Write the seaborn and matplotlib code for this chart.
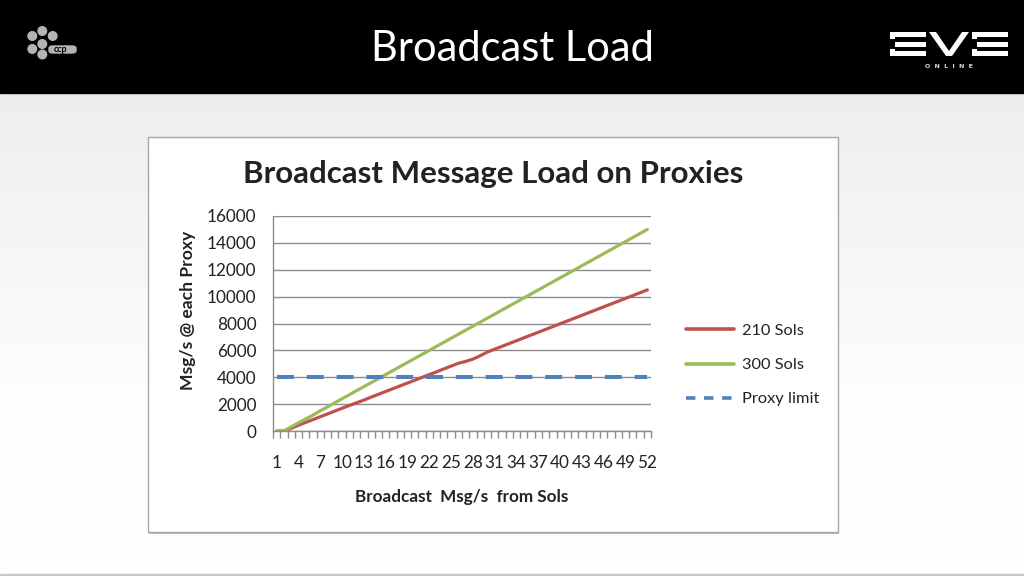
import numpy as np
import pandas as pd
import matplotlib
matplotlib.use("Agg")
import matplotlib.pyplot as plt
import matplotlib.patches as mpatches
import seaborn as sns

# ---------------- data ----------------
msg_rate = list(range(1, 53))
sols_210 = [0, 0, 200, 430, 640, 850, 1060, 1270, 1480, 1690, 1900, 2100, 2300, 2520,
            2730, 2940, 3150, 3360, 3570, 3780, 3990, 4200, 4400, 4620, 4830, 5040,
            5180, 5350, 5600, 5880, 6090, 6300, 6510, 6720, 6930, 7140, 7350, 7560,
            7770, 7980, 8190, 8400, 8610, 8820, 9030, 9240, 9450, 9660, 9870, 10080,
            10290, 10500]
sols_300 = [0, 0, 310, 600, 900, 1180, 1500, 1800, 2100, 2400, 2700, 3000, 3300, 3600,
            3900, 4200, 4500, 4800, 5100, 5400, 5700, 6000, 6300, 6600, 6900, 7200,
            7500, 7800, 8100, 8400, 8700, 9000, 9300, 9600, 9900, 10200, 10500, 10800,
            11100, 11400, 11700, 12000, 12300, 12600, 12900, 13200, 13500, 13800, 14100,
            14400, 14700, 15000]
proxy_limit = [4000] * 52
series_names = ["210 Sols", "300 Sols", "Proxy limit"]
series_colors = ["#C0504D", "#9BBB59", "#4F81BD"]
x_tick_labels = [str(v) for v in range(1, 53, 3)]
y_ticks = [0, 2000, 4000, 6000, 8000, 10000, 12000, 14000, 16000]

df = pd.DataFrame({
    "x": msg_rate * 3,
    "y": sols_210 + sols_300 + proxy_limit,
    "series": [series_names[0]] * 52 + [series_names[1]] * 52 + [series_names[2]] * 52,
})

# ---------------- style ----------------
sns.set_theme(style="white")
plt.rcParams["font.family"] = ["Lato", "DejaVu Sans"]

W, H = 1024, 576
fig = plt.figure(figsize=(W / 100, H / 100), dpi=100)

def fx(px):
    return px / W

def fy(py):
    return 1 - py / H

# background gradient
bg = fig.add_axes([0, 0, 1, 1], zorder=-10)
grad = np.linspace(0, 1, 256)[:, None]
bg.imshow(grad, cmap=matplotlib.colors.LinearSegmentedColormap.from_list(
    "g", ["#e9e9e7", "#f3f3f2", "#fdfdfd", "#ffffff"]), aspect="auto",
    extent=[0, 1, 0, 1], origin="upper")
bg.set_xlim(0, 1)
bg.set_ylim(0, 1)
bg.axis("off")

# header band
bg.add_patch(mpatches.Rectangle((0, fy(93)), 1, 1 - fy(93), color="black", zorder=2))
# slide border bottom
bg.add_patch(mpatches.Rectangle((0, 0), 1, fy(574), color="#c8c8c8", zorder=2))

# chart panel with shadow
bg.add_patch(mpatches.Rectangle((fx(149), fy(534)), fx(839) - fx(149), fy(139) - fy(534),
                                facecolor="#bdbdbd", edgecolor="none", zorder=3))
bg.add_patch(mpatches.Rectangle((fx(148), fy(532)), fx(838) - fx(148), fy(137) - fy(532),
                                facecolor="white", edgecolor="#a6a6a6", lw=1, zorder=4))

# CCP logo
logo_gray = "#b4b4b4"
for cx, cy in [(32.3, 36), (42.3, 31), (52.7, 36), (32.3, 49), (42.3, 44), (42.3, 54.5)]:
    bg.add_patch(mpatches.Ellipse((fx(cx), fy(cy)), 8.6 / W, 8.6 / H, color=logo_gray, zorder=5))
bg.add_patch(mpatches.FancyBboxPatch((fx(49), fy(53)), fx(76) - fx(49), fy(46) - fy(53),
                                     boxstyle="round,pad=0,rounding_size=0.004",
                                     color=logo_gray, zorder=5))
bg.text(fx(61), fy(49.5), "ccp", color="black", fontsize=6.5, fontweight="bold",
        ha="center", va="center", zorder=6)

# EVE ONLINE logo (drawn from bars)
def bar(x0, y0, x1, y1):
    bg.add_patch(mpatches.Rectangle((fx(x0), fy(y1)), fx(x1) - fx(x0), fy(y0) - fy(y1),
                                    color="white", lw=0, zorder=6))

for ex in (890, 972):
    bar(ex, 32, ex + 36, 37)
    bar(ex + 5, 42, ex + 36, 46.5)
    bar(ex, 51, ex + 36, 56)
    bar(ex, 32, ex + 5, 39)
    bar(ex, 49, ex + 5, 56)
v_pts = [(929, 32), (936, 32), (949, 51), (962, 32), (969, 32), (952, 56), (946, 56)]
bg.add_patch(mpatches.Polygon([(fx(a), fy(b)) for a, b in v_pts], closed=True,
                              color="white", lw=0, zorder=6))
bg.text(fx(949), fy(66), "O  N  L  I  N  E", color="#dddddd", fontsize=4.5,
        fontweight="bold", family="DejaVu Sans", ha="center", va="center", zorder=6)

# header title
bg.text(0.5, fy(49), "Broadcast Load", color="white", fontsize=30,
        family=["Lato", "DejaVu Sans"], ha="center", va="center", zorder=6)

# ---------------- chart ----------------
ax = fig.add_axes([fx(273), fy(431), fx(651) - fx(273), fy(216) - fy(431)])
ax.set_facecolor("none")
sns.lineplot(data=df, x="x", y="y", hue="series", hue_order=series_names,
             style="series", style_order=series_names,
             dashes={series_names[0]: "", series_names[1]: "",
                     series_names[2]: (4.2, 3.2)},
             palette=dict(zip(series_names, series_colors)),
             linewidth=2.3, ax=ax, legend=True)
ax.lines[2].set_linewidth(2.9)

ax.set_xlim(0.5, 52.5)
ax.set_ylim(0, 16000)
ax.set_yticks(y_ticks)
ax.set_yticklabels([str(v) for v in y_ticks], fontsize=12.3, color="#222222")
ax.yaxis.grid(True, color="#8c8c8c", lw=1)
ax.set_axisbelow(True)
ax.tick_params(axis="y", length=0, pad=12)

ax.set_xticks(list(range(1, 53, 3)))
ax.set_xticklabels(x_tick_labels, fontsize=12.3, color="#222222")
ax.set_xticks(np.arange(0.5, 53, 1.0), minor=True)
ax.tick_params(axis="x", which="major", length=0, pad=17)
ax.tick_params(axis="x", which="minor", bottom=True, length=5, width=1, color="#8c8c8c",
               direction="out")

for s in ["top", "right"]:
    ax.spines[s].set_visible(False)
for s in ["left", "bottom"]:
    ax.spines[s].set_color("#8c8c8c")
    ax.spines[s].set_linewidth(1)

ax.set_xlabel("Broadcast  Msg/s  from Sols", fontsize=12.3, fontweight="bold", color="#222222")
ax.xaxis.set_label_coords(0.5, -0.27)
ax.set_ylabel("Msg/s @ each Proxy", fontsize=12.6, fontweight="bold", color="#222222")
ax.yaxis.set_label_coords(-0.205, 0.563)

handles, labels = ax.get_legend_handles_labels()
leg = ax.legend(handles, labels, loc="center left", bbox_to_anchor=(fx(686), fy(365)),
                bbox_transform=fig.transFigure, frameon=False, fontsize=11.8,
                borderpad=0, borderaxespad=0, handlelength=2.9, handletextpad=0.5,
                labelspacing=1.2, labelcolor="#222222")
leg_lines = leg.get_lines()
for h in leg_lines:
    h.set_linewidth(2.6)
leg_lines[2].set_dashes((2.6, 2.4))

fig.text(fx(493), fy(174), "Broadcast Message Load on Proxies", fontsize=22.5,
         fontweight="bold", color="#222222", ha="center", va="center")

fig.savefig("out.png", dpi=100)
